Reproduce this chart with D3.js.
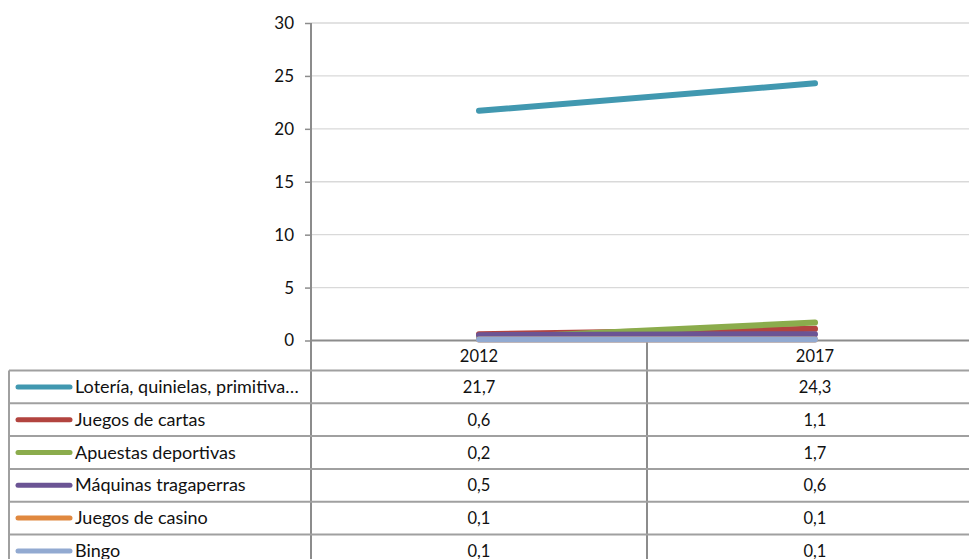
<!DOCTYPE html>
<html>
<head>
<meta charset="utf-8">
<script src="https://cdn.jsdelivr.net/npm/d3@7"></script>
<style>
  html, body { margin: 0; padding: 0; background: #fff; }
  svg { display: block; font-family: Lato, "Open Sans", sans-serif; }
</style>
</head>
<body>
<svg id="chart" width="969" height="559"></svg>
<script>
// Gasto por tipo de juego, 2012 y 2017
const years = ["2012", "2017"];
const seriesNames = [
  "Lotería, quinielas, primitiva…",
  "Juegos de cartas",
  "Apuestas deportivas",
  "Máquinas tragaperras",
  "Juegos de casino",
  "Bingo"
];
const loteria = [21.7, 24.3];
const cartas = [0.6, 1.1];
const apuestas = [0.2, 1.7];
const maquinas = [0.5, 0.6];
const casino = [0.1, 0.1];
const bingo = [0.1, 0.1];
const seriesValues = [loteria, cartas, apuestas, maquinas, casino, bingo];
const colors = ["#4198B0", "#B2443F", "#8BAC4C", "#6B5494", "#E0883F", "#92AAD1"];
const yTicks = [0, 5, 10, 15, 20, 25, 30];

const svg = d3.select("#chart");

const plotLeft = 311, plotRight = 983, plotTop = 23, plotBottom = 340.5;
const x = d3.scaleBand().domain(years).range([plotLeft, plotRight]).padding(0);
const y = d3.scaleLinear().domain([0, 30]).range([plotBottom, plotTop]);

const gridColor = "#D9D9D9";
const axisColor = "#8C8C8C";
const tableColor = "#A0A0A0";

// horizontal gridlines
svg.append("g").selectAll("line")
  .data(yTicks.filter(d => d > 0))
  .join("line")
  .attr("x1", plotLeft).attr("x2", 969)
  .attr("y1", d => y(d)).attr("y2", d => y(d))
  .attr("stroke", gridColor).attr("stroke-width", 1.3);

// y axis
const yAxis = d3.axisLeft(y).tickValues(yTicks).tickSize(6).tickPadding(11).tickFormat(d3.format("d"));
const gy = svg.append("g").attr("transform", `translate(${plotLeft},0)`).call(yAxis);
gy.select(".domain").remove();
gy.selectAll(".tick line").attr("stroke", axisColor).attr("stroke-width", 1.5);
gy.selectAll(".tick text")
  .attr("fill", "#111")
  .attr("font-size", 17)
  .attr("font-family", "Lato, sans-serif");

// data table geometry
const rowH = 32.8;
const tableTop = 370.5;
const tableLeft = 9;

// vertical lines: value axis continued down through the table, and column separator
svg.append("line")
  .attr("x1", plotLeft).attr("x2", plotLeft)
  .attr("y1", plotTop).attr("y2", 559)
  .attr("stroke", axisColor).attr("stroke-width", 2);
svg.append("line")
  .attr("x1", x("2017")).attr("x2", x("2017"))
  .attr("y1", plotBottom).attr("y2", 559)
  .attr("stroke", axisColor).attr("stroke-width", 2);

// category axis line
svg.append("line")
  .attr("x1", plotLeft).attr("x2", 969)
  .attr("y1", plotBottom).attr("y2", plotBottom)
  .attr("stroke", axisColor).attr("stroke-width", 2);

// table row lines
svg.append("g").selectAll("line")
  .data(d3.range(seriesNames.length))
  .join("line")
  .attr("x1", tableLeft).attr("x2", 969)
  .attr("y1", i => tableTop + i * rowH).attr("y2", i => tableTop + i * rowH)
  .attr("stroke", tableColor).attr("stroke-width", 2);
svg.append("line")
  .attr("x1", tableLeft).attr("x2", tableLeft)
  .attr("y1", tableTop).attr("y2", 559)
  .attr("stroke", tableColor).attr("stroke-width", 2);

// year labels (header row)
svg.append("g").selectAll("text")
  .data(years)
  .join("text")
  .attr("x", d => x(d) + x.bandwidth() / 2)
  .attr("y", (plotBottom + tableTop) / 2 + 6)
  .attr("text-anchor", "middle")
  .attr("font-size", 16.5)
  .attr("fill", "#111")
  .text(d => d);

// series lines
const line = d3.line()
  .x((d, i) => x(years[i]) + x.bandwidth() / 2)
  .y(d => y(d));
svg.append("g").selectAll("path")
  .data(seriesValues)
  .join("path")
  .attr("d", d => line(d))
  .attr("fill", "none")
  .attr("stroke", (d, i) => colors[i])
  .attr("stroke-width", 6)
  .attr("stroke-linecap", "round");

// table rows: legend key, name, values
const fmt = v => d3.format(".1f")(v).replace(".", ",");
const rows = svg.append("g").selectAll("g")
  .data(seriesNames)
  .join("g")
  .attr("transform", (d, i) => `translate(0,${tableTop + i * rowH + rowH / 2})`);
rows.append("line")
  .attr("x1", 18).attr("x2", 70)
  .attr("y1", 0).attr("y2", 0)
  .attr("stroke", (d, i) => colors[i])
  .attr("stroke-width", 5)
  .attr("stroke-linecap", "round");
rows.append("text")
  .attr("x", 75).attr("y", 6)
  .attr("font-size", 18)
  .attr("fill", "#111")
  .text(d => d);
rows.each(function(name, i) {
  d3.select(this).selectAll("text.val")
    .data(seriesValues[i])
    .join("text")
    .attr("class", "val")
    .attr("x", (v, j) => x(years[j]) + x.bandwidth() / 2)
    .attr("y", 6)
    .attr("text-anchor", "middle")
    .attr("font-size", 16.5)
    .attr("fill", "#111")
    .text(v => fmt(v));
});
</script>
</body>
</html>
